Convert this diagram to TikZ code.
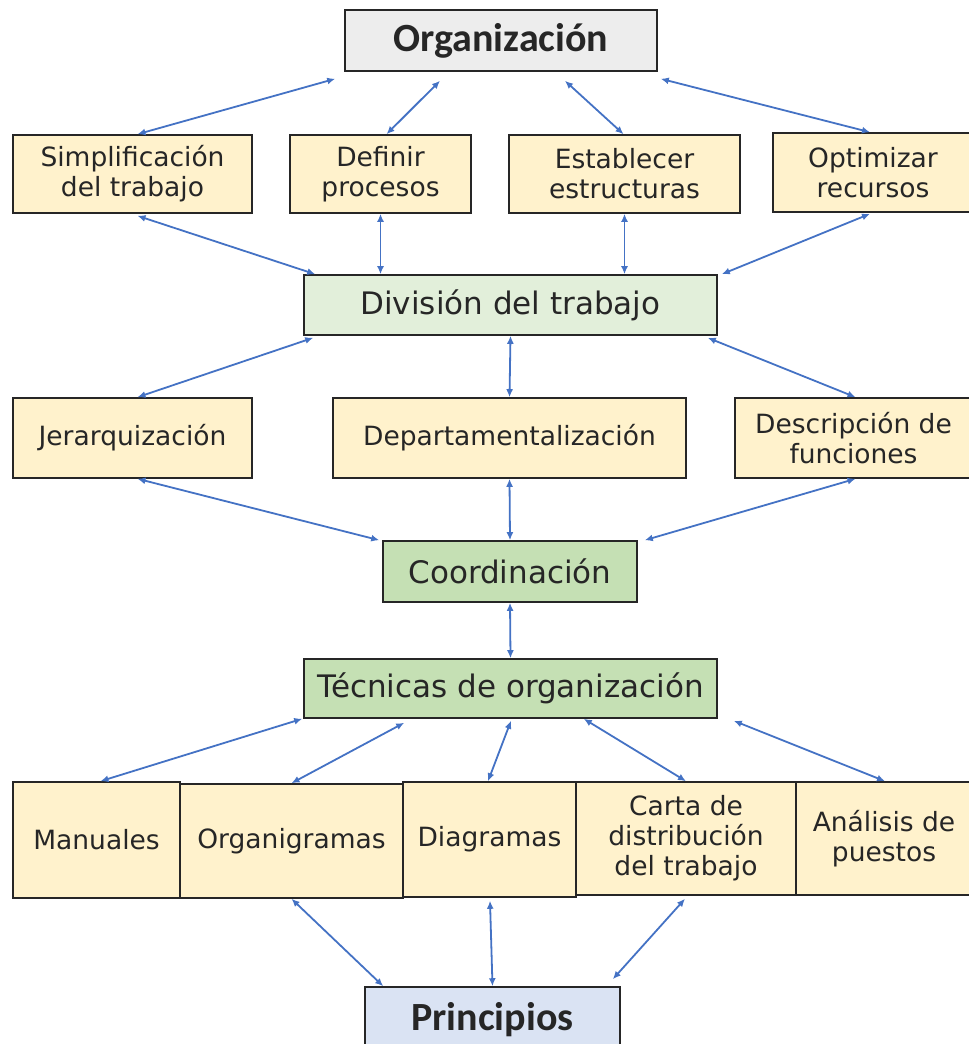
\documentclass[tikz,border=0pt]{standalone}
\usepackage{fontspec}
\usepackage{xcolor}
\usepackage{tikz}
\usetikzlibrary{arrows.meta}
\newfontfamily\calibri{Carlito}
\newfontfamily\verd{DejaVu Sans}
\definecolor{amarillo}{HTML}{FFF2CC}
\definecolor{gris}{HTML}{EDEDED}
\definecolor{verdec}{HTML}{E2EFDA}
\definecolor{verde}{HTML}{C5E0B4}
\definecolor{azulc}{HTML}{DAE3F3}
\definecolor{flecha}{HTML}{4472C4}
\tikzset{
  caja/.style = {draw=black!85, line width=1.6pt, align=center,
    inner sep=0pt, text=black!85},
  caja_a/.style = {caja, fill=amarillo,
    font=\verd\fontsize{26.5}{30}\selectfont},% caja amarilla
  caja_t/.style = {caja, font=\calibri\bfseries\fontsize{40}{40}\selectfont},% titulo
  caja_g/.style = {caja, font=\verd\fontsize{31}{31}\selectfont},% caja verde
  flecha/.style = {draw=flecha, line width=1.8pt,
    {Latex[length=8pt,width=7pt]}-{Latex[length=8pt,width=7pt]}}
}
\begin{document}
\begin{tikzpicture}[x=1pt,y=-1pt]
\useasboundingbox (0,0) rectangle (969,1044);
% nivel 0
\node [caja_t, fill=gris, minimum width=312, minimum height=61] (org) at (501,40.5) {Organización};
% nivel 1
\node [caja_a, minimum width=239, minimum height=78] (simp) at (132.5,174) {Simplificación\\del trabajo};
\node [caja_a, minimum width=181, minimum height=78] (def) at (380.5,174) {Definir\\procesos};
\node [caja_a, minimum width=231, minimum height=78] (est) at (624.5,174) {Establecer\\estructuras};
\node [caja_a, minimum width=200, minimum height=79] (opt) at (873,172.5) {Optimizar\\recursos};
% division
\node [caja_g, fill=verdec, minimum width=413, minimum height=60] (div) at (510.5,305) {División del trabajo};
% nivel 2
\node [caja_a, minimum width=239, minimum height=80] (jer) at (132.5,438) {Jerarquización};
\node [caja_a, minimum width=353, minimum height=80] (dep) at (509.5,438) {Departamentalización};
\node [caja_a, minimum width=237, minimum height=80] (desc) at (853.5,438) {Descripción de\\funciones};
% coordinacion y tecnicas
\node [caja_g, fill=verde, minimum width=254, minimum height=61] (coord) at (510,571.5) {Coordinación};
\node [caja_g, fill=verde, minimum width=413, minimum height=59] (tec) at (510.5,688.5) {Técnicas de organización};
% nivel 3
\node [caja_a, minimum width=167, minimum height=116] (man) at (96.5,840) {Manuales};
\node [caja_a, minimum width=223, minimum height=114] (orgn) at (291.5,841) {Organigramas};
\node [caja_a, minimum width=173, minimum height=115] (diag) at (489.5,839.5) {Diagramas};
\node [caja_a, minimum width=220, minimum height=113] (carta) at (686,838.5) {Carta de\\distribución\\del trabajo};
\node [caja_a, minimum width=176, minimum height=113] (anal) at (884,838.5) {Análisis de\\puestos};
% principios
\node [caja_t, fill=azulc, minimum width=255, minimum height=66] (prin) at (492.5,1020) {Principios};

% flechas
\draw [flecha] ([shift={(-9,7)}]org.south west) -- ([shift={(5,0)}]simp.north);
\draw [flecha] ([shift={(-61,9)}]org.south) -- ([shift={(6,0)}]def.north);
\draw [flecha] ([shift={(64,9)}]org.south) -- ([shift={(-1,0)}]est.north);
\draw [flecha] ([shift={(3,7)}]org.south east) -- ([shift={(-3,0)}]opt.north);
\draw [flecha] ([shift={(5,2)}]simp.south) -- ([shift={(12,0)}]div.north west);
\draw [flecha] (def.south) -- (def.south |- div.north);
\draw [flecha] (est.south) -- (est.south |- div.north);
\draw [flecha] ([shift={(-3,1)}]opt.south) -- ([shift={(4,0)}]div.north east);
\draw [flecha] ([shift={(10,2)}]div.south west) -- ([shift={(5,0)}]jer.north);
\draw [flecha] (div.south) -- (dep.north);
\draw [flecha] ([shift={(-10,2)}]div.south east) -- ([shift={(2,0)}]desc.north);
\draw [flecha] ([shift={(5,0)}]jer.south) -- ([shift={(-3,0)}]coord.north west);
\draw [flecha] (dep.south) -- (coord.north);
\draw [flecha] ([shift={(2,0)}]desc.south) -- ([shift={(7,0)}]coord.north east);
\draw [flecha] (coord.south) -- (tec.north);
\draw [flecha] ([shift={(-1,0)}]tec.south west) -- ([shift={(4,0)}]man.north);
\draw [flecha] ([shift={(101,4)}]tec.south west) -- (orgn.north);
\draw [flecha] ([shift={(0.5,2)}]tec.south) -- ([shift={(-1.5,0)}]diag.north);
\draw [flecha] ([shift={(-134,0)}]tec.south east) -- (carta.north);
\draw [flecha] ([shift={(16,2)}]tec.south east) -- ([shift={(1,0)}]anal.north);
\draw [flecha] (orgn.south) -- ([shift={(19,0)}]prin.north west);
\draw [flecha] ([shift={(0.5,3)}]diag.south) -- (prin.north);
\draw [flecha] ([shift={(-1,3)}]carta.south) -- ([shift={(-8,-7)}]prin.north east);
\end{tikzpicture}
\end{document}
